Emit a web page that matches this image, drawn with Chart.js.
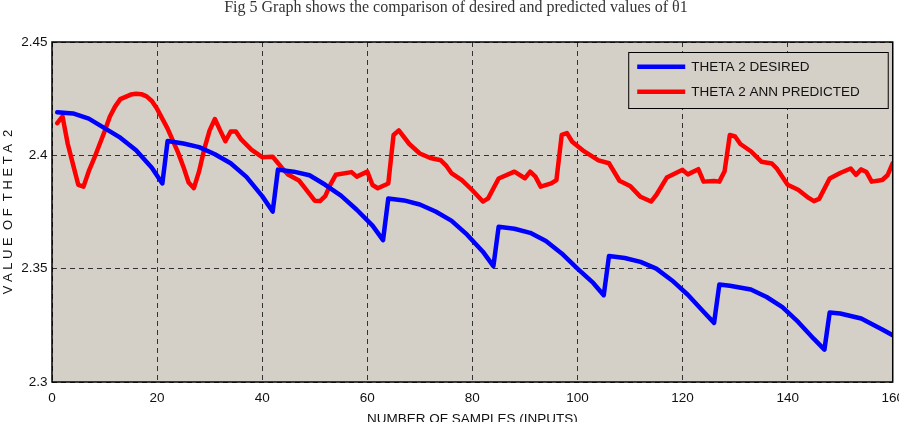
<!DOCTYPE html>
<html>
<head>
<meta charset="utf-8">
<script src="https://cdn.jsdelivr.net/npm/chart.js@4.4.1/dist/chart.umd.min.js"></script>
<style>
  html, body { margin: 0; padding: 0; background: #ffffff; }
  #wrap { width: 899px; height: 422px; overflow: hidden; position: relative; }
  canvas { display: block; }
</style>
</head>
<body>
<div id="wrap"><canvas id="c" width="912" height="430"></canvas></div>
<script>
// ---- data ----
const chartTitle = 'Fig 5 Graph shows the comparison of desired and predicted values of \u03B81';
const xAxisTitle = 'NUMBER OF SAMPLES (INPUTS)';
const yAxisTitle = 'V A L U E  O F  T H E T A  2';
const seriesNames = ['THETA 2 DESIRED', 'THETA 2 ANN PREDICTED'];
const xTickLabels = ['0', '20', '40', '60', '80', '100', '120', '140', '160'];
const yTickLabels = ['2.3', '2.35', '2.4', '2.45'];

const desiredX = [1, 4, 7, 10, 13, 16, 19, 21,
  22, 25, 28, 31, 34, 37, 40, 42,
  43, 46, 49, 52, 55, 58, 61, 63,
  64, 67, 70, 73, 76, 79, 82, 84,
  85, 88, 91, 94, 97, 100, 103, 105,
  106, 109, 112, 115, 118, 121, 124, 126,
  127, 129, 133, 136, 139, 142, 145, 147,
  148, 150, 154, 158, 160];
const desiredY = [2.4190, 2.4185, 2.4162, 2.4120, 2.4078, 2.4022, 2.3945, 2.3876,
  2.4063, 2.4052, 2.4036, 2.4005, 2.3965, 2.3905, 2.3820, 2.3752,
  2.3937, 2.3928, 2.3912, 2.3870, 2.3822, 2.3760, 2.3690, 2.3626,
  2.3810, 2.3801, 2.3783, 2.3752, 2.3712, 2.3650, 2.3575, 2.3511,
  2.3685, 2.3676, 2.3658, 2.3622, 2.3567, 2.3500, 2.3437, 2.3383,
  2.3556, 2.3547, 2.3530, 2.3500, 2.3448, 2.3385, 2.3310, 2.3261,
  2.3430, 2.3425, 2.3408, 2.3375, 2.3330, 2.3265, 2.3190, 2.3143,
  2.3307, 2.3302, 2.3280, 2.3232, 2.3206];

const predictedX = [1, 2, 3, 4, 5, 6, 7, 8, 10, 11, 12, 13, 15, 16, 17, 18, 19, 20,
  22, 24, 25, 26, 27, 28, 29, 30, 31, 32, 33, 34, 35, 36, 38, 40, 42,
  44, 45, 47, 48, 50, 51, 52, 53, 54, 57, 58, 60, 61, 62, 64, 65, 66,
  68, 70, 72, 74, 75, 76, 78, 80, 82, 83, 85, 88, 90, 91, 92, 93, 95, 96,
  97, 98, 99, 101, 104, 106, 108, 110, 112, 114, 115, 117, 120, 121, 123,
  124, 126, 127, 128, 129, 130, 131, 133, 135, 137, 138, 140, 142, 144,
  145, 146, 148, 150, 152, 153, 154, 155, 156, 158, 159, 160];
const predictedY = [2.4142, 2.4172, 2.4050, 2.3960, 2.3870, 2.3862, 2.3930, 2.3985, 2.4105, 2.4170, 2.4215, 2.4248, 2.4268, 2.4272, 2.4270, 2.4260, 2.4240, 2.4205,
  2.4118, 2.4012, 2.3950, 2.3880, 2.3855, 2.3930, 2.4030, 2.4110, 2.4160, 2.4110, 2.4062, 2.4105, 2.4105, 2.4070, 2.4024, 2.3992, 2.3994,
  2.3938, 2.3914, 2.3889, 2.3860, 2.3800, 2.3798, 2.3820, 2.3872, 2.3914, 2.3926, 2.3906, 2.3928, 2.3869, 2.3855, 2.3876, 2.4090, 2.4110,
  2.4050, 2.4008, 2.3988, 2.3978, 2.3955, 2.3922, 2.3891, 2.3846, 2.3796, 2.3810, 2.3898, 2.3928, 2.3899, 2.3928, 2.3906, 2.3862, 2.3876, 2.3891,
  2.4090, 2.4098, 2.4060, 2.4022, 2.3978, 2.3965, 2.3888, 2.3865, 2.3817, 2.3796, 2.3825, 2.3902, 2.3936, 2.3916, 2.3939,
  2.3884, 2.3887, 2.3884, 2.3930, 2.4090, 2.4083, 2.4050, 2.4018, 2.3972, 2.3964, 2.3940, 2.3870, 2.3848, 2.3812,
  2.3798, 2.3808, 2.3898, 2.3922, 2.3942, 2.3914, 2.3938, 2.3926, 2.3884, 2.3891, 2.3912, 2.3965];

// ---- styling ----
const PLOT_BG = '#d4d0c8';
const SANS = "'Liberation Sans', Arial, sans-serif";
const SERIF = "'Liberation Serif', 'Times New Roman', serif";

const plotBgPlugin = {
  id: 'plotBg',
  beforeDraw(chart) {
    const { ctx, chartArea: a } = chart;
    ctx.save();
    ctx.fillStyle = PLOT_BG;
    ctx.fillRect(a.left, a.top, a.right - a.left, a.bottom - a.top);
    ctx.restore();
  }
};

const frameLegendPlugin = {
  id: 'frameLegend',
  afterDatasetsDraw(chart) {
    const { ctx, chartArea: a } = chart;
    ctx.save();
    // axes box
    ctx.strokeStyle = '#000';
    ctx.lineWidth = 1.5;
    ctx.strokeRect(a.left, a.top, a.right - a.left, a.bottom - a.top);

    // legend box inside the plot (top-right)
    const fontPx = 13.5;
    ctx.font = fontPx + 'px ' + SANS;
    const labels = chart.data.datasets.map(d => d.label);
    const textW = Math.max(...labels.map(t => ctx.measureText(t).width));
    const lineLen = 48, padL = 9, gap = 6, padR = 28, rowH = 25, padT = 14.7;
    const boxW = padL + lineLen + gap + textW + padR;
    const boxH = 56;
    const bx = a.right - 5 - boxW;
    const by = a.top + 10;
    ctx.fillStyle = PLOT_BG;
    ctx.fillRect(bx, by, boxW, boxH);
    ctx.strokeStyle = '#000';
    ctx.lineWidth = 1;
    ctx.strokeRect(bx + 0.5, by + 0.5, boxW, boxH);
    chart.data.datasets.forEach((d, i) => {
      const cy = by + padT + i * rowH;
      ctx.strokeStyle = d.borderColor;
      ctx.lineWidth = 4.5;
      ctx.beginPath();
      ctx.moveTo(bx + padL, cy);
      ctx.lineTo(bx + padL + lineLen, cy);
      ctx.stroke();
      ctx.fillStyle = '#111';
      ctx.textBaseline = 'middle';
      ctx.textAlign = 'left';
      ctx.fillText(d.label, bx + padL + lineLen + gap, cy + 0.5);
    });
    ctx.restore();
  }
};

const toPoints = (xs, ys) => xs.map((x, i) => ({ x: x, y: ys[i] }));

new Chart(document.getElementById('c'), {
  type: 'line',
  data: {
    datasets: [
      { label: seriesNames[0], data: toPoints(desiredX, desiredY), borderColor: '#0000ff',
        borderWidth: 4.5, pointRadius: 0, tension: 0, fill: false, borderJoinStyle: 'round', borderCapStyle: 'round' },
      { label: seriesNames[1], data: toPoints(predictedX, predictedY), borderColor: '#ff0000',
        borderWidth: 4.5, pointRadius: 0, tension: 0, fill: false, borderJoinStyle: 'round', borderCapStyle: 'round' }
    ]
  },
  options: {
    responsive: false,
    animation: false,
    devicePixelRatio: 1,
    layout: { padding: 0 },
    plugins: {
      legend: { display: false },
      tooltip: { enabled: false },
      title: {
        display: true, text: chartTitle, color: '#333',
        font: { family: SERIF, size: 16, weight: 'normal' },
        padding: { top: -2, bottom: 24.8 }
      }
    },
    scales: {
      x: {
        type: 'linear', min: 0, max: 160,
        ticks: { stepSize: 20, color: '#111', padding: 8, maxRotation: 0,
          font: { family: SANS, size: 13.5 },
          callback: (v, i) => xTickLabels[i] },
        grid: { color: '#333', lineWidth: 1, drawTicks: false },
        border: { display: false, dash: [5, 4] },
        title: { display: true, text: xAxisTitle, color: '#111',
          font: { family: SANS, size: 13.5 }, padding: { top: 0, bottom: 2.5 } },
        afterFit(s) { s.height = 48; }
      },
      y: {
        min: 2.3, max: 2.45,
        ticks: { stepSize: 0.05, color: '#111', padding: 4.5,
          font: { family: SANS, size: 13.5 },
          callback: (v, i) => yTickLabels[i] },
        grid: { color: '#333', lineWidth: 1, drawTicks: false },
        border: { display: false, dash: [5, 4] },
        title: { display: true, text: yAxisTitle, color: '#111',
          font: { family: SANS, size: 13 }, padding: { top: 1, bottom: 0 } },
        afterFit(s) { s.width = 52; }
      }
    }
  },
  plugins: [plotBgPlugin, frameLegendPlugin]
});
</script>
</body>
</html>
